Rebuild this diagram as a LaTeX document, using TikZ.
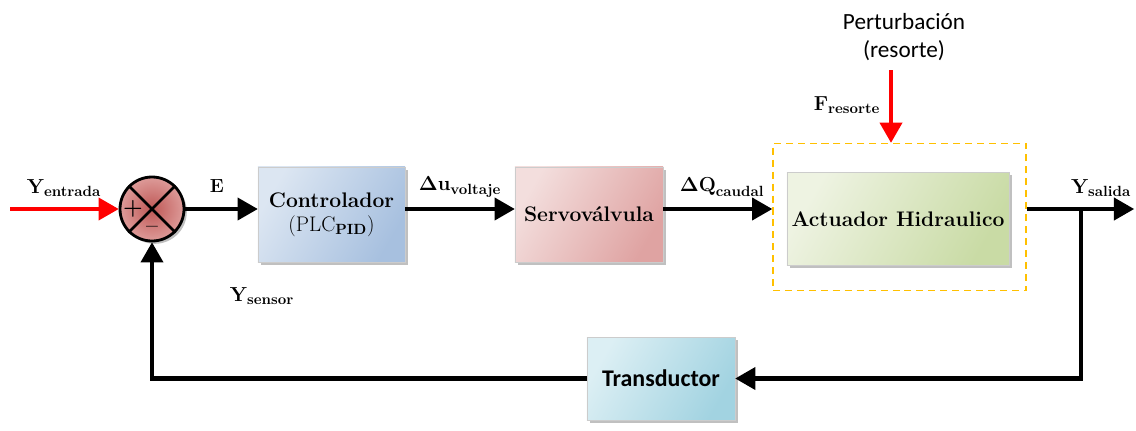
\documentclass[tikz,border=0pt]{standalone}
\usepackage{amsmath}
\usepackage{amssymb}
\usepackage{xcolor}
\usepackage[no-math]{fontspec}
\newfontfamily\calibri{Carlito}
\usepackage{tikz}
\usetikzlibrary{shapes.geometric, arrows, shadows}
\usetikzlibrary{calc}

\definecolor{azulosc}{HTML}{A7C0DF}
\definecolor{azulcla}{HTML}{DCE6F2}
\definecolor{rosaosc}{HTML}{DFA3A2}
\definecolor{rosacla}{HTML}{F3DEDD}
\definecolor{verdeosc}{HTML}{C9DBA5}
\definecolor{verdecla}{HTML}{EEF3E2}
\definecolor{cianosc}{HTML}{A2D3E1}
\definecolor{ciancla}{HTML}{DCEFF4}
\definecolor{rojosum}{HTML}{BF5856}
\definecolor{rojoclar}{HTML}{DD9B99}
\definecolor{naranja}{HTML}{FFC000}

% variable con subindice en negrita
\newcommand{\etq}[2]{$\mathbf{#1}_{\text{\fontsize{10.5}{12}\selectfont\bfseries #2}}$}

\begin{document}
\begin{tikzpicture}[x=0.025cm, y=-0.025cm,
		sombra/.style={drop shadow={shadow xshift=.07cm, shadow yshift=-.07cm, opacity=.45, fill=black!55}},
		bloque/.style={rectangle, draw=white!80!black, line width=.5pt, sombra, align=center, inner sep=0pt,
			font=\fontsize{15}{18}\selectfont\bfseries},
		sumador/.style={circle, draw, line width=2pt, minimum size=1.6cm, inner color=rojosum, outer color=rojoclar, sombra},
		flecha/.style={line width=3pt, -triangle 60},
		flecharoja/.style={flecha, red},
		etiqueta/.style={font=\fontsize{13.5}{15}\selectfont\bfseries, inner sep=1pt}]
	\useasboundingbox (0,0) rectangle (1136,430);
	
	%sumador
	\node[sumador] (suma) at (152,209) {};
	\draw[line width=2pt] (suma.north west) -- (suma.south east) (suma.north east) -- (suma.south west);
	\node[font=\fontsize{16}{16}\selectfont\bfseries] (mas) at ($(suma.center)+(-19,0)$) {+};
	\node[font=\fontsize{15}{15}\selectfont\bfseries] (menos) at ($(suma.center)+(0,20)$) {--};
	
	%bloques
	\node[bloque, minimum width=3.675cm, minimum height=2.375cm, left color=azulcla, right color=azulosc, shading angle=60] (ctrl) at (331.5,214.5)
		{Controlador\\[-1pt]\mdseries(PLC$_{\text{\bfseries PID}}$)};
	\node[bloque, minimum width=3.7cm, minimum height=2.375cm, left color=rosacla, right color=rosaosc, shading angle=60] (servo) at (589,214.5) {Servoválvula};
	\node[draw=naranja, dash pattern=on 5pt off 3.5pt, line width=1.2pt, minimum width=6.325cm, minimum height=3.675cm] (planta) at (899.5,217) {};
	\node[bloque, minimum width=5.55cm, minimum height=2.325cm, left color=verdecla, right color=verdeosc, shading angle=60] (act) at (898,219) {Actuador Hidraulico};
	\node[bloque, minimum width=3.7cm, minimum height=2.075cm, left color=ciancla, right color=cianosc, shading angle=60,
		font=\fontsize{17}{18}\calibri\bfseries] (trans) at (661,378.5) {Transductor};
	
	%perturbacion
	\node[font=\fontsize{16.5}{20}\calibri, align=center] (pert) at (904,37) {Perturbación\\(resorte)};
	\coordinate (pini) at (891,70);
	\draw[flecharoja] (pini) -- (pini |- planta.north);
	
	%lazo directo
	\coordinate (entrada) at (10,209);
	\coordinate (salida) at (1134,209);
	\coordinate (rama) at (1081,209);
	\draw[flecharoja] (entrada) -- (suma.west);
	\draw[flecha] (suma.east) -- (suma.east -| ctrl.west);
	\draw[flecha] (ctrl.east |- suma) -- (servo.west |- suma);
	\draw[flecha] (servo.east |- suma) -- (planta.west |- suma);
	\draw[flecha] (planta.east |- suma) -- (salida);
	
	%realimentacion
	\draw[flecha] (rama) |- (trans.east);
	\draw[flecha] (trans.west) -| (suma.south);
	
	%etiquetas
	\node[etiqueta] (yent) at (64,188) {\etq{Y}{entrada}};
	\node[etiqueta] (err) at (217,186) {E};
	\node[etiqueta] (du) at (460,187) {\etq{\Delta u}{voltaje}};
	\node[etiqueta] (dq) at (722,187) {\etq{\Delta Q}{caudal}};
	\node[etiqueta] (fres) at (847,105) {\etq{F}{resorte}};
	\node[etiqueta] (ysal) at (1101,188) {\etq{Y}{salida}};
	\node[etiqueta] (ysen) at (262,296) {\etq{Y}{sensor}};
\end{tikzpicture}
\end{document}
